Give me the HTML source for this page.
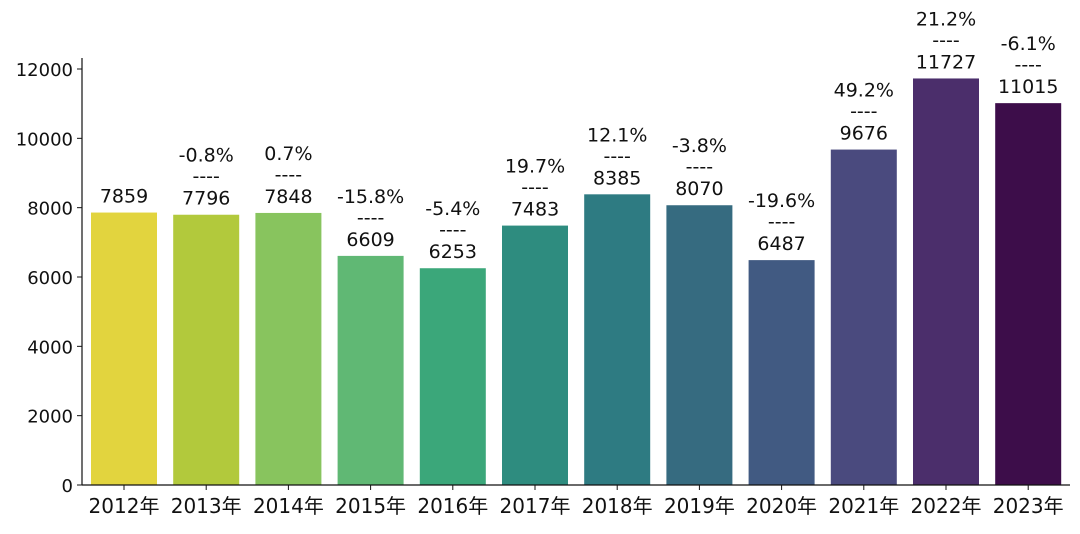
<!DOCTYPE html>
<html><head><meta charset="utf-8"><style>
body{margin:0;background:#fff}
svg text{font-family:"DejaVu Sans","Noto Sans CJK SC",sans-serif;fill:#111}
</style></head><body>
<svg id="chart" width="1080" height="529" xmlns="http://www.w3.org/2000/svg"></svg>
<script>
const categories=["2012年","2013年","2014年","2015年","2016年","2017年","2018年","2019年","2020年","2021年","2022年","2023年"];
const values=[7859,7796,7848,6609,6253,7483,8385,8070,6487,9676,11727,11015];
const pctLabels=["","-0.8%","0.7%","-15.8%","-5.4%","19.7%","12.1%","-3.8%","-19.6%","49.2%","21.2%","-6.1%"];
const yTicks=[0,2000,4000,6000,8000,10000,12000];
const colors=["#e2d43e","#b2c93c","#88c45e","#60b874","#3ba77a","#2e8c7f","#2e7b82","#366b80","#415a82","#4a4a7e","#4b2e6b","#3d0d4a"];
const NS="http://www.w3.org/2000/svg",svg=document.getElementById('chart');
const x0=82,base=485,top12=69,c0=124,step=82.2,bw=66;
const y=v=>base-(v/12000)*(base-top12);
const xc=i=>c0+i*step;
function mk(t,a,p){const e=document.createElementNS(NS,t);for(const k in a)e.setAttribute(k,a[k]);(p||svg).appendChild(e);return e;}
values.forEach((v,i)=>{
 const r=mk('rect',{x:xc(i)-bw/2,y:y(v),width:bw,height:base-y(v),fill:colors[i]});
 
 
 const t=mk('text',{x:xc(i),y:y(v)-10,'font-size':19,'text-anchor':'middle'});t.textContent=v;
 
 
 if(pctLabels[i]){
  const d=mk('text',{x:xc(i),y:y(v)-32,'font-size':19,'text-anchor':'middle'});d.textContent='----';
  
  
  const p=mk('text',{x:xc(i),y:y(v)-53,'font-size':19,'text-anchor':'middle'});p.textContent=pctLabels[i];
  
  
 }
 mk('line',{x1:xc(i),x2:xc(i),y1:base,y2:base+5,stroke:'#111','stroke-width':1});
 const c=mk('text',{x:xc(i),y:base+28,'font-size':20,'text-anchor':'middle'});c.textContent=categories[i];
 
 
});
yTicks.forEach(v=>{
 mk('line',{x1:x0-5,x2:x0,y1:y(v),y2:y(v),stroke:'#111','stroke-width':1});
 const t=mk('text',{x:x0-9,y:y(v)+7,'font-size':18,'text-anchor':'end'});t.textContent=v;
 
 
});
const ya=mk('line',{x1:x0,x2:x0,y1:58,y2:base,stroke:'#111','stroke-width':1.2});


const xa=mk('line',{x1:x0,x2:1070,y1:base,y2:base,stroke:'#111','stroke-width':1.2});


</script>
</body></html>
